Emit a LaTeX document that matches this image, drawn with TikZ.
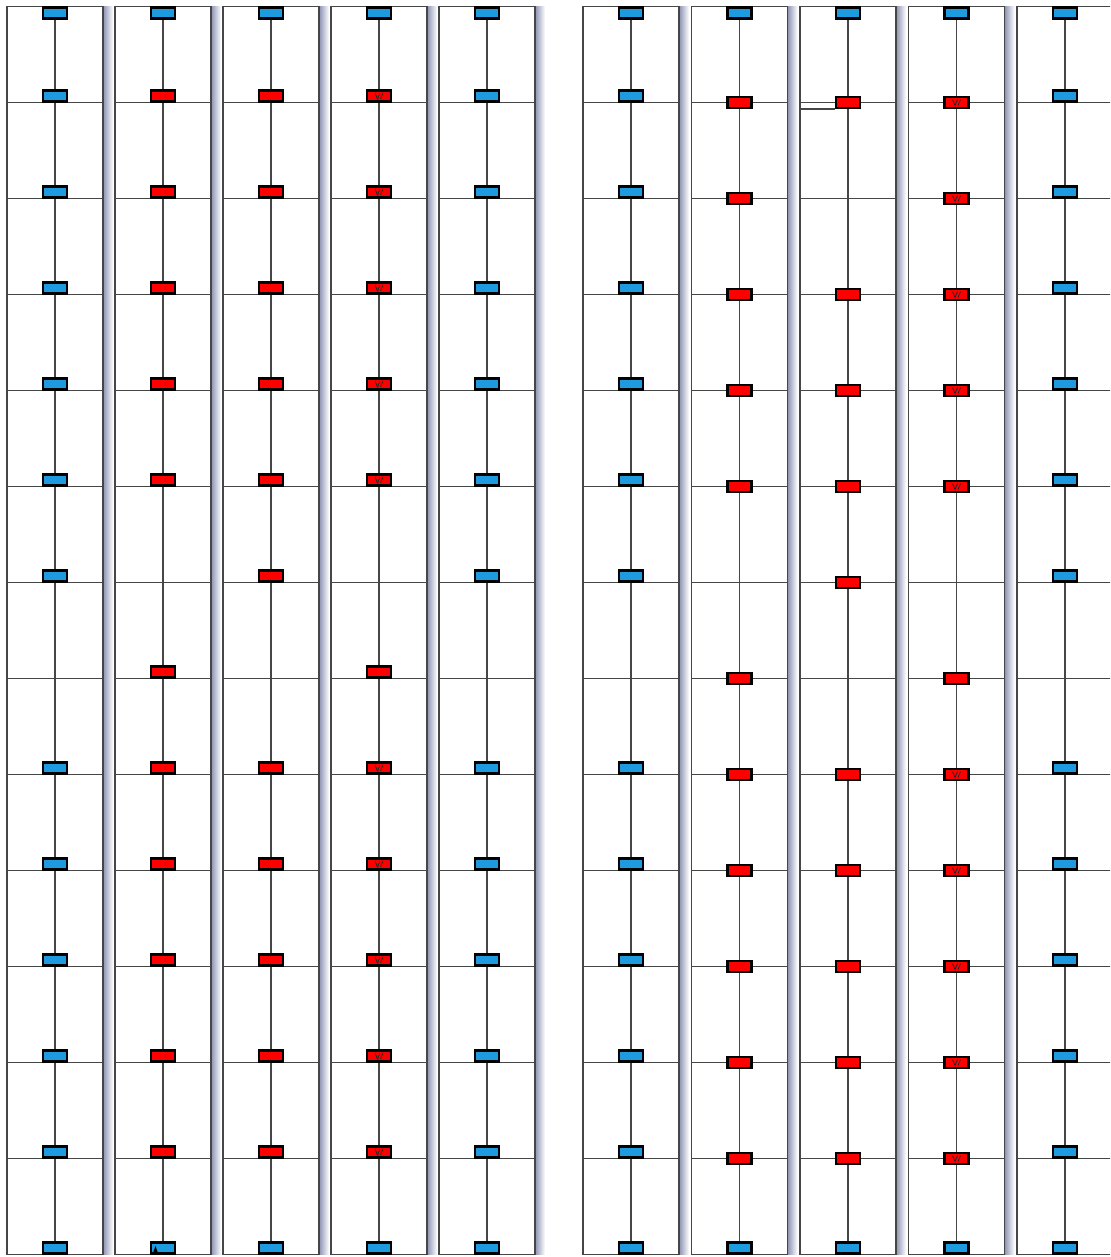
\documentclass[tikz,border=0pt]{standalone}
\definecolor{mkblue}{RGB}{30,155,222}
\definecolor{mkred}{RGB}{255,0,0}
\definecolor{shd}{RGB}{140,146,178}
\definecolor{gridc}{RGB}{70,70,70}
\pgfdeclarelayer{bgl}
\pgfsetlayers{bgl,main}
\tikzset{
  mkbase/.style={rectangle, draw=black, line width=2.2pt, minimum width=24pt, minimum height=11pt, inner sep=0pt},
  mk-b/.style={mkbase, fill=mkblue},
  mk-r/.style={mkbase, fill=mkred},
  mk-s/.style={mkbase, fill=mkred, path picture={
     \draw[black!85, line width=0.8pt, shift={(path picture bounding box.center)}]
        (-4,-3) -- (-1.5,3) -- (1,-3) (1.5,3) -- (4,-3);}},
  mk-bt/.style={mkbase, fill=mkblue, path picture={
     \fill[black, shift={(path picture bounding box.center)}]
        (-10,5) -- (-7.5,-2) -- (-5,5) -- cycle;}},
  boxc/.style={draw=gridc, line width=1.5pt},
  gridl/.style={draw=gridc, line width=1.5pt},
  conn/.style={draw=gridc, line width=1.5pt},
}
\begin{document}
\begin{tikzpicture}[x=1pt,y=-1pt]
\useasboundingbox (0,0) rectangle (1110,1257);
% markers
\foreach \c/\x/\d/\spec in {
  1/55/0/{b,b,b,b,b,b,n,b,b,b,b,b},
  2/163/0/{r,r,r,r,r,n,r,r,r,r,r,r},
  3/271/0/{r,r,r,r,r,r,n,r,r,r,r,r},
  4/379/0/{s,s,s,s,s,n,r,s,s,s,s,s},
  5/487/0/{b,b,b,b,b,b,n,b,b,b,b,b},
  6/631/0/{b,b,b,b,b,b,n,b,b,b,b,b},
  7/739.5/6.5/{r,r,r,r,r,n,r,r,r,r,r,r},
  8/848/6.5/{r,n,r,r,r,r,n,r,r,r,r,r},
  9/956.5/6.5/{s,s,s,s,s,n,r,s,s,s,s,s},
  10/1065/0/{b,b,b,b,b,b,n,b,b,b,b,b}}{
  \node[mk-b] (m-\c-0) at (\x,13) {};
  \foreach \t [count=\r] in \spec {
    \if\t n\relax\else
      \node[mk-\t] (m-\c-\r) at (\x,{96*\r+\d}) {};
    \fi
  }
}
\foreach \c/\x in {1/55,3/271,4/379,5/487,6/631,7/739.5,8/848,9/956.5,10/1065}{
  \node[mk-b] (m-\c-13) at (\x,1248) {};
}
\node[mk-bt] (m-2-13) at (163,1248) {};
% background: boxes, shadows, grid lines, connectors
\begin{pgfonlayer}{bgl}
\clip (0,0) rectangle (1110,1257);
\fill[white] (0,0) rectangle (1110,1257);
\foreach \c/\x in {1/55,2/163,3/271,4/379,5/487,6/631,7/739.5,8/848,9/956.5,10/1065}{
  \shade[left color=shd, right color=white] (\x+48,6.5) rectangle (\x+58,1254.5);
  \draw[boxc] (\x-48,6.5) rectangle (\x+48,1254.5);
  \foreach \r in {1,...,12}{
    \draw[gridl] (\x-48,{6.5+96*\r}) -- (\x+48,{6.5+96*\r});
  }
  \draw[conn] (m-\c-0) -- (m-\c-13);
}
\coordinate (e8a) at (800,109);
\coordinate (e8b) at (835,109);
\draw[gridl] (e8a) -- (e8b);
\end{pgfonlayer}
\end{tikzpicture}
\end{document}
